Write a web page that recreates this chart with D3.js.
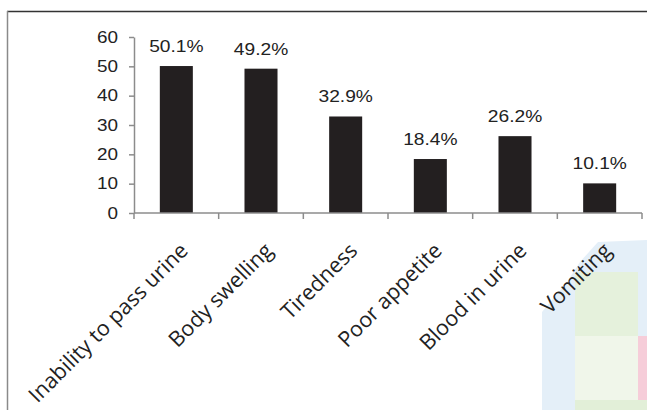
<!DOCTYPE html>
<html><head><meta charset="utf-8">
<script src="https://cdn.jsdelivr.net/npm/d3@7"></script>
<style>body{margin:0;background:#fff}svg{display:block}</style>
</head><body>
<script>
const categories = ["Inability to pass urine","Body swelling","Tiredness","Poor appetite","Blood in urine","Vomiting"];
const values = [50.1, 49.2, 32.9, 18.4, 26.2, 10.1];
const yTicks = [0,10,20,30,40,50,60];

const W = 647, H = 410;
const svg = d3.select("body").append("svg").attr("width", W).attr("height", H);

// faint background artifact (bottom right)
const art = svg.append("g");
art.append("path").attr("d","M542,410 L542,312 L552,300 L565,285 L580,262 L598,242 L647,240 L647,410 Z").attr("fill","#e4eff8");
art.append("rect").attr("x",575).attr("y",272).attr("width",63).attr("height",128).attr("fill","#f0f6ea");
art.append("rect").attr("x",575).attr("y",272).attr("width",63).attr("height",64).attr("fill","#e5f1dc");
art.append("rect").attr("x",638).attr("y",336).attr("width",9).attr("height",64).attr("fill","#f6cdd9");
art.append("rect").attr("x",575).attr("y",400).attr("width",72).attr("height",10).attr("fill","#e2efd8");

// frame
svg.append("line").attr("x1",7).attr("x2",W).attr("y1",11.5).attr("y2",11.5).attr("stroke","#333").attr("stroke-width",1.5);
svg.append("line").attr("x1",7.5).attr("x2",7.5).attr("y1",11).attr("y2",H).attr("stroke","#8a8a8a").attr("stroke-width",1.5);

const x0 = 134, x1 = 642, yTop = 37, y0 = 213;
const x = d3.scaleBand().domain(categories).range([x0, x1]).paddingInner(0.61).paddingOuter(0.305);
const y = d3.scaleLinear().domain([0, 60]).range([y0, yTop]);
const axisColor = "#8c8c8c";
const numFont = "'Liberation Sans', Arial, sans-serif";

// y axis
const ya = svg.append("g").attr("transform", `translate(${x0},0)`)
  .call(d3.axisLeft(y).tickValues(yTicks).tickSize(5).tickPadding(11).tickSizeOuter(0));
ya.select(".domain").attr("stroke", axisColor).attr("stroke-width",1.5);
ya.selectAll(".tick line").attr("stroke", axisColor).attr("stroke-width",1.5);
ya.selectAll(".tick text").attr("x",0).attr("transform","translate(-16,0) scale(1.18,1)")
  .attr("fill","#222").style("font-family",numFont).style("font-size","16px");

// bars
svg.append("g").selectAll("rect").data(values).join("rect")
  .attr("x", (d,i) => x(categories[i]))
  .attr("width", x.bandwidth())
  .attr("y", d => y(d))
  .attr("height", d => y0 - y(d))
  .attr("fill", "#231f20");

// x axis
const xa = svg.append("g").attr("transform", `translate(0,${y0})`);
xa.append("line").attr("x1",x0).attr("x2",x1).attr("y1",0).attr("y2",0).attr("stroke",axisColor).attr("stroke-width",1.5);
const step = x.step();
xa.selectAll("line.tk").data(d3.range(categories.length+1)).join("line").attr("class","tk")
  .attr("x1", i => x0 + i*step).attr("x2", i => x0 + i*step)
  .attr("y1",0).attr("y2",6).attr("stroke",axisColor).attr("stroke-width",1.5);

// category labels
svg.append("g").selectAll("text").data(categories).join("text")
  .attr("transform", d => `translate(${x(d) + x.bandwidth()/2 + 13},${y0 + 39}) rotate(-45)`)
  .attr("text-anchor","end")
  .attr("fill","#222")
  .style("font-family","'Open Sans', sans-serif")
  .style("font-size","21.5px")
  .text(d => d);

// value labels
svg.append("g").selectAll("text").data(values).join("text")
  .attr("transform", (d,i) => `translate(${x(categories[i]) + x.bandwidth()/2},${y(d) - 14}) scale(1.2,1)`)
  .attr("text-anchor","middle")
  .attr("fill","#222")
  .style("font-family",numFont)
  .style("font-size","16px")
  .text(d => d.toFixed(1) + "%");
</script>
</body></html>
